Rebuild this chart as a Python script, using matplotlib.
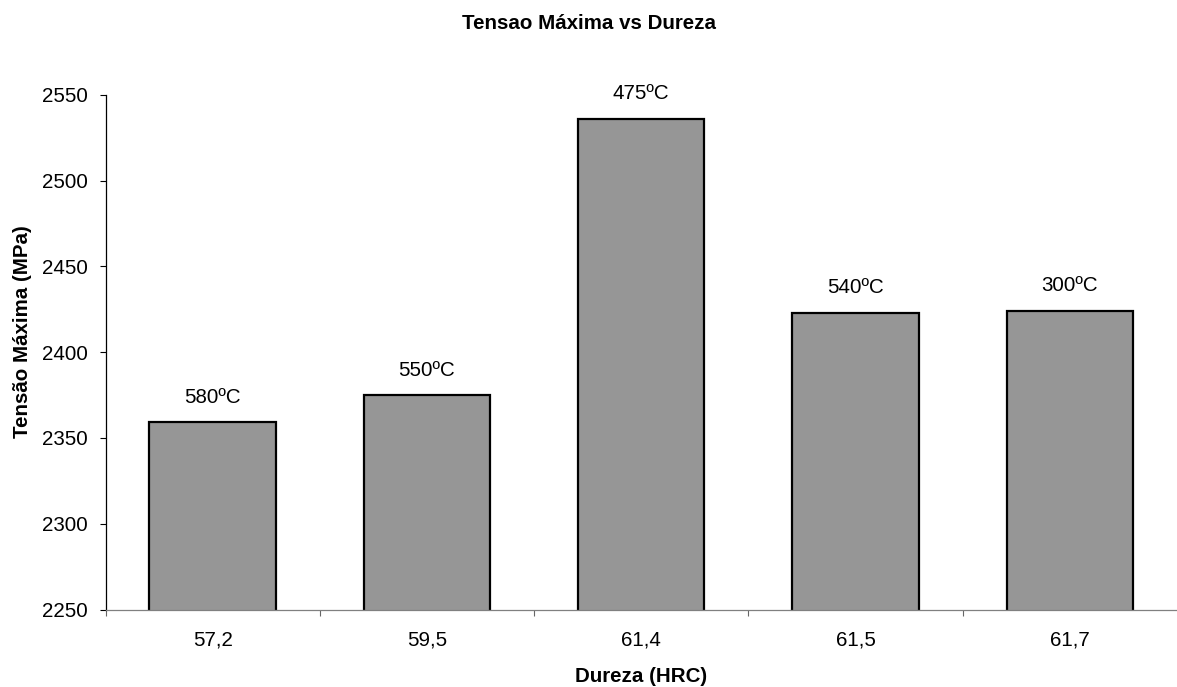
import matplotlib
matplotlib.use("Agg")
import matplotlib.pyplot as plt
import numpy as np

plt.rcParams['font.family'] = ['Liberation Sans', 'DejaVu Sans']

# Hardness (HRC) categories, max stress values and tempering temperatures
dureza = ["57,2", "59,5", "61,4", "61,5", "61,7"]
tensao = [2359, 2375, 2536, 2423, 2424]
temperaturas = ["580ºC", "550ºC", "475ºC", "540ºC", "300ºC"]
y_ticks = [2250, 2300, 2350, 2400, 2450, 2500, 2550]

W, H = 1177, 687
fig = plt.figure(figsize=(W / 100, H / 100), dpi=100)
left, right, top, bottom = 105.5, 1177, 94.7, 609.5
ax = fig.add_axes([left / W, 1 - bottom / H, (right - left) / W, (bottom - top) / H])

x = np.arange(len(dureza))
bars = ax.bar(x, tensao, width=0.59, color="#969696", edgecolor="black",
              linewidth=1.6, zorder=2)

for xi, val, lab in zip(x, tensao, temperaturas):
    ax.annotate(lab, (xi, val), xytext=(0, 18), textcoords="offset points",
                ha="center", va="center", fontsize=14.8)

ax.set_xlim(-0.5, len(dureza) - 0.5)
ax.set_ylim(2250, 2550)
ax.set_yticks(y_ticks)
ax.set_yticklabels([str(v) for v in y_ticks], fontsize=14.8)
ax.tick_params(axis="y", direction="out", length=4, width=0.8, pad=8.5, colors="black")

ax.set_xticks(x)
ax.set_xticklabels(dureza, fontsize=14.8)
ax.tick_params(axis="x", which="major", length=0, pad=15)
ax.set_xticks(np.arange(-0.5, len(dureza) - 0.5, 1.0), minor=True)
ax.tick_params(axis="x", which="minor", direction="out", length=4, width=0.8, color="#666666")

for s in ("top", "right"):
    ax.spines[s].set_visible(False)
ax.spines["left"].set_color("black")
ax.spines["left"].set_linewidth(0.9)
ax.spines["bottom"].set_color("#808080")
ax.spines["bottom"].set_linewidth(0.9)

fig.text(0.5, 1 - 23.5 / H, "Tensao Máxima vs Dureza", ha="center", va="center",
         fontsize=14.8, fontweight="bold")
fig.text(641.5 / W, 1 - 676.5 / H, "Dureza (HRC)", ha="center", va="center",
         fontsize=14.8, fontweight="bold")
fig.text(22.5 / W, 1 - 332 / H, "Tensão Máxima (MPa)", ha="center", va="center",
         rotation=90, fontsize=14.8, fontweight="bold")

fig.savefig("out.png", dpi=100)
